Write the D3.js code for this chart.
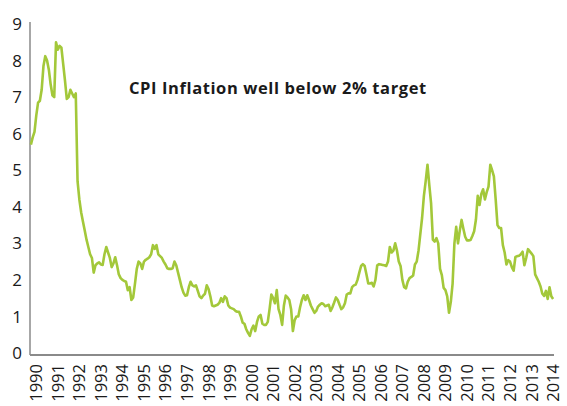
<!DOCTYPE html>
<html lang="en">
<head>
    <meta charset="UTF-8">
    <title>CPI Inflation</title>
    <script src="https://d3js.org/d3.v7.min.js"></script>
    <style>
        body { margin: 0; background: #fff; }
        text { font-family: "Open Sans", "DejaVu Sans", sans-serif; fill: #1a1a1a; }
    </style>
</head>
<body>
    <div id="chart"></div>

    <script>
        // Monthly CPI annual rate (%), first value is Oct 1989, one row per 12 months
        var cpi = [
            5.7, 5.9, 6.05, 6.5, 6.85, 6.9, 7.2, 7.85, 8.12, 8.0, 7.75, 7.35,
            7.05, 7.0, 8.5, 8.3, 8.4, 8.35, 7.9, 7.45, 6.95, 7.0, 7.2, 7.1,
            7.0, 7.1, 4.7, 4.2, 3.85, 3.6, 3.35, 3.1, 2.9, 2.7, 2.6, 2.2,
            2.4, 2.45, 2.48, 2.42, 2.41, 2.7, 2.9, 2.75, 2.6, 2.35, 2.45, 2.62,
            2.4, 2.15, 2.05, 2.0, 1.97, 1.95, 1.72, 1.8, 1.45, 1.52, 1.9, 2.3,
            2.5, 2.45, 2.3, 2.5, 2.55, 2.58, 2.62, 2.7, 2.95, 2.85, 2.95, 2.7,
            2.65, 2.6, 2.5, 2.42, 2.32, 2.3, 2.3, 2.32, 2.5, 2.4, 2.2, 2.0,
            1.8, 1.65, 1.57, 1.58, 1.8, 1.95, 1.85, 1.82, 1.85, 1.7, 1.55, 1.5,
            1.57, 1.62, 1.85, 1.75, 1.55, 1.3, 1.28, 1.3, 1.32, 1.37, 1.5, 1.4,
            1.55, 1.5, 1.3, 1.24, 1.22, 1.2, 1.15, 1.13, 1.13, 1.0, 0.83, 0.8,
            0.65, 0.55, 0.47, 0.65, 0.75, 0.6, 0.85, 1.0, 1.04, 0.8, 0.77, 0.77,
            0.85, 1.2, 1.6, 1.5, 1.36, 1.72, 1.2, 1.04, 0.77, 1.3, 1.57, 1.52,
            1.45, 1.2, 0.6, 0.9, 1.0, 1.0, 1.25, 1.45, 1.58, 1.45, 1.58, 1.45,
            1.3, 1.2, 1.1, 1.15, 1.27, 1.32, 1.36, 1.34, 1.28, 1.3, 1.32, 1.15,
            1.25, 1.38, 1.52, 1.45, 1.32, 1.2, 1.25, 1.36, 1.6, 1.63, 1.63, 1.8,
            1.85, 1.87, 2.0, 2.2, 2.38, 2.43, 2.38, 2.15, 1.9, 1.9, 1.92, 1.82,
            2.0, 2.4, 2.43, 2.42, 2.41, 2.4, 2.38, 2.5, 2.9, 2.75, 2.8, 3.0,
            2.8, 2.5, 2.38, 2.0, 1.8, 1.77, 1.95, 2.05, 2.08, 2.12, 2.42, 2.5,
            2.8, 3.25, 3.7, 4.3, 4.7, 5.15, 4.6, 4.1, 3.1, 3.05, 3.14, 3.0,
            2.3, 2.13, 1.78, 1.72, 1.55, 1.1, 1.4, 1.9, 3.0, 3.45, 3.0, 3.35,
            3.64, 3.4, 3.18, 3.08, 3.08, 3.09, 3.2, 3.33, 3.65, 4.3, 4.05, 4.35,
            4.48, 4.2, 4.4, 4.55, 5.15, 5.0, 4.83, 4.2, 3.5, 3.42, 3.42, 2.95,
            2.75, 2.42, 2.54, 2.5, 2.35, 2.25, 2.63, 2.65, 2.66, 2.7, 2.77, 2.4,
            2.6, 2.84, 2.78, 2.72, 2.65, 2.15, 2.05, 1.95, 1.82, 1.62, 1.56, 1.7,
            1.48, 1.8, 1.55, 1.48
        ];

        // Year labels, each sits on the January of that year (index 3 + 12k)
        var years = d3.range(1990, 2015);
        var firstJanIndex = 3;

        var yTicks = [0, 1, 2, 3, 4, 5, 6, 7, 8, 9];
        var chartTitle = "CPI Inflation well below 2% target";

        var width = 567, height = 406;
        var plotLeft = 30, plotRight = 554, plotTop = 24, plotBottom = 353;

        var svg = d3.select("#chart").append("svg")
            .attr("width", width)
            .attr("height", height);

        // Category-style x scale: each month takes one slot
        var x = d3.scaleLinear()
            .domain([0, cpi.length])
            .range([plotLeft, plotRight]);

        var y = d3.scaleLinear()
            .domain([0, 9])
            .range([plotBottom, plotTop]);

        // y axis line and labels
        svg.append("line")
            .attr("x1", plotLeft).attr("x2", plotLeft)
            .attr("y1", plotTop - 2).attr("y2", plotBottom + 2)
            .attr("stroke", "#8a8a8a")
            .attr("stroke-width", 1.5);

        svg.selectAll(".ylab")
            .data(yTicks)
            .enter().append("text")
            .attr("class", "ylab")
            .attr("x", 22)
            .attr("y", function(d) { return y(d); })
            .attr("dy", "0.36em")
            .attr("text-anchor", "end")
            .style("font-size", "17px")
            .text(function(d) { return d; });

        // x axis line and rotated year labels
        svg.append("line")
            .attr("x1", plotLeft).attr("x2", plotRight)
            .attr("y1", plotBottom + 2).attr("y2", plotBottom + 2)
            .attr("stroke", "#8a8a8a")
            .attr("stroke-width", 2);

        svg.selectAll(".xlab")
            .data(years)
            .enter().append("text")
            .attr("class", "xlab")
            .attr("transform", function(d, i) {
                var px = x(firstJanIndex + 12 * i + 0.5);
                return "translate(" + px + "," + 364 + ") rotate(-90)";
            })
            .attr("dy", "0.36em")
            .attr("text-anchor", "end")
            .style("font-size", "16.5px")
            .text(function(d) { return d; });

        // the CPI line
        var line = d3.line()
            .x(function(d, i) { return x(i + 0.5); })
            .y(function(d) { return y(d); });

        svg.append("path")
            .datum(cpi)
            .attr("d", line)
            .attr("fill", "none")
            .attr("stroke", "#a3c83a")
            .attr("stroke-width", 2.6)
            .attr("stroke-linejoin", "round");

        // title inside the plot
        svg.append("text")
            .attr("x", 129)
            .attr("y", 94)
            .style("font-size", "16.5px")
            .style("font-weight", "bold")
            .style("letter-spacing", "0.6px")
            .text(chartTitle);
    </script>
</body>
</html>
